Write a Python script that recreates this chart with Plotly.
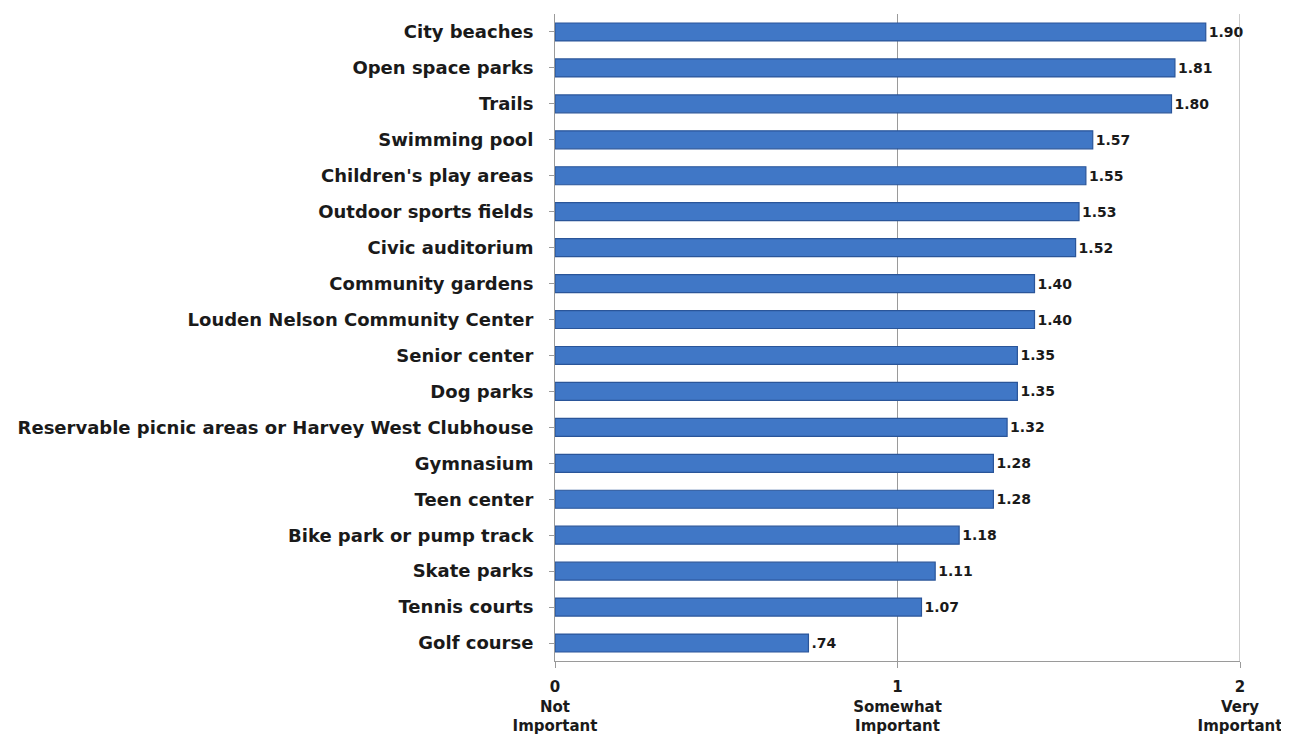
import plotly.graph_objects as go

categories = [
    "City beaches", "Open space parks", "Trails", "Swimming pool",
    "Children's play areas", "Outdoor sports fields", "Civic auditorium",
    "Community gardens", "Louden Nelson Community Center", "Senior center",
    "Dog parks", "Reservable picnic areas or Harvey West Clubhouse",
    "Gymnasium", "Teen center", "Bike park or pump track", "Skate parks",
    "Tennis courts", "Golf course",
]
values = [1.90, 1.81, 1.80, 1.57, 1.55, 1.53, 1.52, 1.40, 1.40, 1.35,
          1.35, 1.32, 1.28, 1.28, 1.18, 1.11, 1.07, 0.74]
tick_vals = [0, 1, 2]
tick_text = ["0<br>Not<br>Important", "1<br>Somewhat<br>Important", "2<br>Very<br>Important"]

FONT = "DejaVu Sans, sans-serif"
labels = [f"{v:.2f}".lstrip("0") for v in values]

fig = go.Figure(go.Bar(
    x=values,
    y=categories,
    orientation="h",
    width=0.5,
    marker=dict(color="#4077C6", line=dict(color="#2A5599", width=1.2)),
    text=[f"<b>{t}</b>" for t in labels],
    textposition="outside",
    textfont=dict(size=14, color="#1a1a1a", family=FONT),
    cliponaxis=False,
))

fig.update_layout(
    width=1289, height=751,
    paper_bgcolor="white", plot_bgcolor="white",
    margin=dict(l=547, r=57, t=6, b=98),
    showlegend=False,
    font=dict(family=FONT, color="#1a1a1a"),
)
fig.update_xaxes(
    range=[0, 2],
    tickvals=tick_vals,
    ticktext=[f"<b>{t}</b>" for t in tick_text],
    tickfont=dict(size=15, family=FONT),
    ticklabelstandoff=6,
    showgrid=True, gridcolor="#9a9a9a", gridwidth=1,
    showline=True, linecolor="#9a9a9a", mirror=False,
    ticks="outside", tickcolor="#9a9a9a", ticklen=6,
    zeroline=False,
    automargin=False,
)
fig.update_yaxes(
    autorange="reversed",
    tickvals=categories,
    ticktext=[f"<b>{c}</b>" for c in categories],
    tickfont=dict(size=18, family=FONT),
    ticklabelstandoff=12,
    showline=True, linecolor="#9a9a9a",
    ticks="outside", tickcolor="#9a9a9a", ticklen=5,
    automargin=False,
)
fig.add_shape(type="line", xref="x", yref="paper", x0=2, x1=2, y0=0, y1=1,
              line=dict(color="#9a9a9a", width=1))

fig.write_html("out.html")
